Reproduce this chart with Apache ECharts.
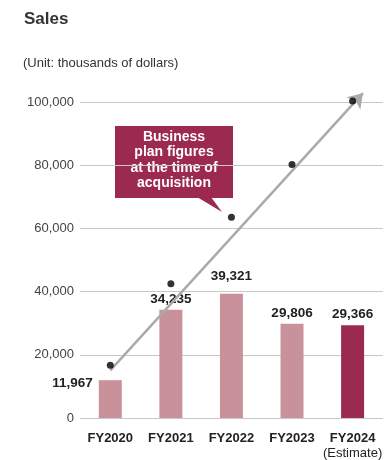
<!DOCTYPE html>
<html><head><meta charset="utf-8">
<script src="https://cdn.jsdelivr.net/npm/echarts@6/dist/echarts.min.js"></script>
<style>html,body{margin:0;padding:0;background:#fff}#c{width:385px;height:460px}</style>
</head><body><div id="c"></div>
<script>
const categories = ['FY2020', 'FY2021', 'FY2022', 'FY2023', 'FY2024'];
const sales = [11967, 34235, 39321, 29806, 29366];
const planFigures = [16700, 42500, 63500, 80200, 100300];
const trendStart = [0, 15100];
const trendEnd = [4.17, 102800];
const yTicks = { min: 0, max: 100000, interval: 20000 };

const FONT = '"Liberation Sans", Arial, Helvetica, sans-serif';
const PINK = '#c9929b';
const WINE = '#9c2a50';

const chart = echarts.init(document.getElementById('c'), null, { renderer: 'canvas' });
chart.setOption({
  animation: false,
  textStyle: { fontFamily: FONT },
  title: [
    { text: 'Sales', left: 19, top: 6, textStyle: { fontSize: 17, fontWeight: 'bold', color: '#333', fontFamily: FONT } },
    { text: '(Unit: thousands of dollars)', left: 18, top: 52, textStyle: { fontSize: 13, fontWeight: 'normal', color: '#333', fontFamily: FONT } }
  ],
  grid: { left: 80, right: 0, top: 102, bottom: 40 },
  xAxis: [
    {
      type: 'category', data: categories,
      axisLine: { show: false }, axisTick: { show: false },
      axisLabel: {
        margin: 13, interval: 0,
        formatter: (v, i) => i === 4 ? '{a|' + v + '}\n{b|(Estimate)}' : '{a|' + v + '}',
        rich: {
          a: { fontSize: 13, fontWeight: 'bold', color: '#222', fontFamily: FONT, lineHeight: 15 },
          b: { fontSize: 13, color: '#222', fontFamily: FONT, lineHeight: 15 }
        }
      }
    },
    { type: 'value', min: -0.5, max: 4.5, show: false }
  ],
  yAxis: {
    type: 'value', min: yTicks.min, max: yTicks.max, interval: yTicks.interval,
    axisLine: { show: false }, axisTick: { show: false },
    axisLabel: { margin: 6, fontSize: 13, color: '#444', fontFamily: FONT,
      formatter: v => v.toLocaleString('en-US') },
    splitLine: { lineStyle: { color: '#c8c8c8', width: 1 } }
  },
  series: [
    {
      type: 'bar', barWidth: 23, xAxisIndex: 0,
      data: sales.map((v, i) => {
        const d = { value: v, itemStyle: { color: i === 4 ? WINE : PINK } };
        if (i === 0) d.label = { position: [-6, -4], align: 'right', verticalAlign: 'top' };
        if (i === 2) d.label = { distance: 10 };
        return d;
      }),
      label: {
        show: true, position: 'top', distance: 4,
        fontSize: 13.5, fontWeight: 'bold', color: '#222', fontFamily: FONT,
        formatter: p => p.value.toLocaleString('en-US')
      },
      z: 2
    },
    {
      type: 'lines', coordinateSystem: 'cartesian2d', xAxisIndex: 1, yAxisIndex: 0,
      silent: true, polyline: false, clip: false,
      symbol: ['none', 'arrow'], symbolSize: [11, 14],
      lineStyle: { color: '#aaaaaa', width: 2.5, opacity: 1, curveness: 0 },
      data: [{ coords: [trendStart, trendEnd] }],
      z: 3
    },
    {
      type: 'scatter', xAxisIndex: 0, data: planFigures, clip: false,
      symbolSize: 7, itemStyle: { color: '#000' }, z: 4
    }
  ],
  graphic: [
    {
      type: 'group', silent: true, z: 10,
      children: [
        { type: 'rect', shape: { x: 115, y: 126, width: 118, height: 72 }, style: { fill: WINE } },
        { type: 'polygon', shape: { points: [[197, 197], [211, 197], [222, 212]] }, style: { fill: WINE } },
        { type: 'text', x: 174, y: 160, style: {
            text: 'Business\nplan figures\nat the time of\nacquisition',
            fill: '#fff', font: 'bold 14px ' + FONT, lineHeight: 15.5,
            align: 'center', verticalAlign: 'middle'
        } }
      ]
    }
  ]
});
</script></body></html>
